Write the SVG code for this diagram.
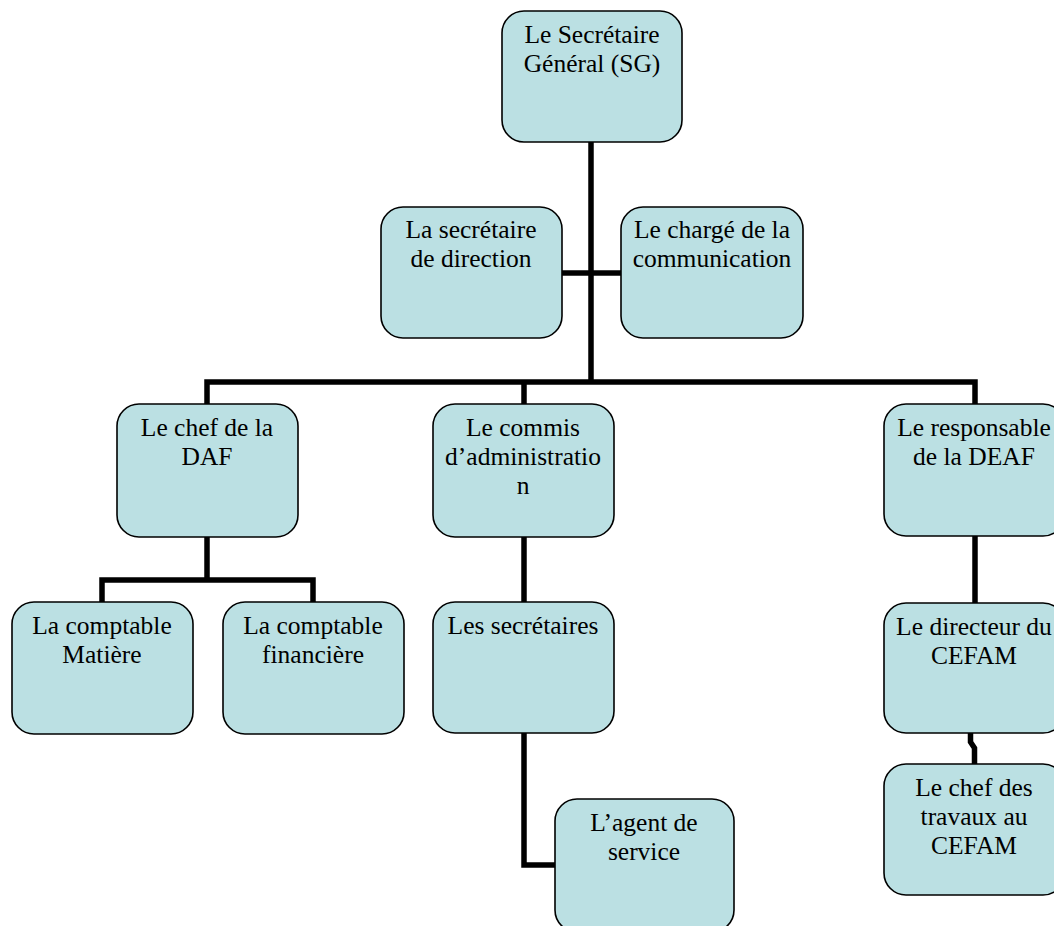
<svg xmlns="http://www.w3.org/2000/svg" width="1054" height="926" viewBox="0 0 1054 926">
<style>
.box{fill:#BBE0E3;stroke:#000;stroke-width:1.6}
.t{font-family:"Liberation Serif","Times New Roman",serif;font-size:25.5px;fill:#000;text-anchor:middle}
.c{fill:none;stroke:#000;stroke-width:5.5;stroke-linejoin:miter;stroke-linecap:butt}
</style>
<rect width="1054" height="926" fill="#fff"/>
<g id="connectors">
<path class="c" d="M591 142 V382"/>
<path class="c" d="M562 273 H621"/>
<path class="c" d="M207 404 V382 H975 V404"/>
<path class="c" d="M524 382 V404"/>
<path class="c" d="M207 537 V580"/>
<path class="c" d="M102 602 V580 H313 V602"/>
<path class="c" d="M524 537 V602"/>
<path class="c" d="M524 733 V865 H555"/>
<path class="c" d="M975 536 V603"/>
<path class="c" d="M970.5 733 V742 L974.5 748 V764"/>
</g>
<g id="sg"><rect class="box" x="502" y="11" width="180" height="131" rx="22"/><text class="t" x="592" y="43">Le Secrétaire</text><text class="t" x="592" y="72">Général (SG)</text></g>
<g id="secretaire-direction"><rect class="box" x="381" y="207" width="181" height="131" rx="22"/><text class="t" x="471" y="238">La secrétaire</text><text class="t" x="471" y="267">de direction</text></g>
<g id="charge-communication"><rect class="box" x="621" y="207" width="182" height="131" rx="22"/><text class="t" x="712" y="238">Le chargé de la</text><text class="t" x="712" y="267">communication</text></g>
<g id="chef-daf"><rect class="box" x="117" y="404" width="181" height="133" rx="22"/><text class="t" x="207" y="436">Le chef de la</text><text class="t" x="207" y="465">DAF</text></g>
<g id="commis"><rect class="box" x="433" y="404" width="181" height="133" rx="22"/><text class="t" x="523" y="436">Le commis</text><text class="t" x="523" y="465">d’administratio</text><text class="t" x="523" y="494">n</text></g>
<g id="responsable-deaf"><rect class="box" x="884" y="404" width="181" height="132" rx="22"/><text class="t" x="974" y="436">Le responsable</text><text class="t" x="974" y="465">de la DEAF</text></g>
<g id="comptable-matiere"><rect class="box" x="12" y="602" width="181" height="132" rx="22"/><text class="t" x="102" y="634">La comptable</text><text class="t" x="102" y="663">Matière</text></g>
<g id="comptable-financiere"><rect class="box" x="223" y="602" width="181" height="132" rx="22"/><text class="t" x="313" y="634">La comptable</text><text class="t" x="313" y="663">financière</text></g>
<g id="secretaires"><rect class="box" x="433" y="602" width="181" height="131" rx="22"/><text class="t" x="523" y="634">Les secrétaires</text></g>
<g id="agent-service"><rect class="box" x="555" y="799" width="179" height="133" rx="22"/><text class="t" x="644" y="831">L’agent de</text><text class="t" x="644" y="860">service</text></g>
<g id="directeur-cefam"><rect class="box" x="884" y="603" width="181" height="130" rx="22"/><text class="t" x="974" y="635">Le directeur du</text><text class="t" x="974" y="664">CEFAM</text></g>
<g id="chef-travaux"><rect class="box" x="884" y="764" width="181" height="131" rx="22"/><text class="t" x="974" y="796">Le chef des</text><text class="t" x="974" y="825">travaux au</text><text class="t" x="974" y="854">CEFAM</text></g>
</svg>
